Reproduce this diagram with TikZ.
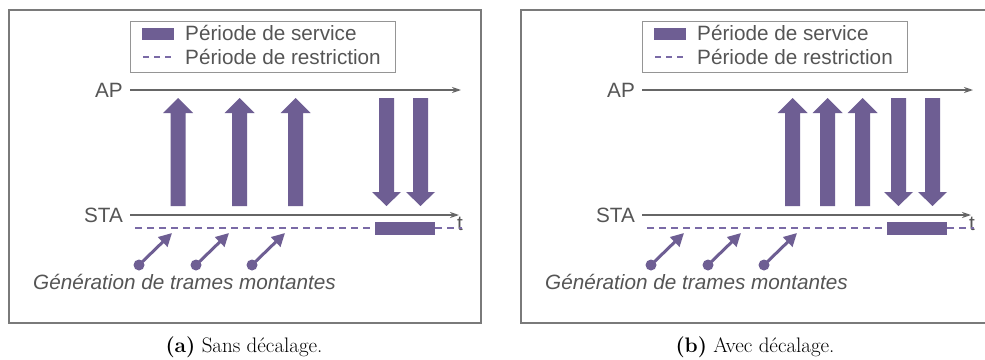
\documentclass[tikz,border=0pt]{standalone}
\usepackage{fontspec}
\newfontfamily\arialf{Liberation Sans}
\usetikzlibrary{arrows.meta}
\definecolor{pur}{HTML}{6E5E93}
\definecolor{dashpur}{HTML}{7A6AA6}
\definecolor{axisgray}{HTML}{666666}
\definecolor{txtgray}{HTML}{555555}
\definecolor{framegray}{HTML}{7A7A7A}
\tikzset{
  txt/.style={inner sep=0pt, text=txtgray, font=\arialf\fontsize{20.7}{24}\selectfont},
  gentxt/.style={inner sep=0pt, text=txtgray, font=\arialf\itshape\fontsize{20.7}{24}\selectfont},
  legendbox/.style={draw=framegray!80, line width=1pt, inner sep=0pt},
  framebox/.style={draw=framegray, line width=1.2pt},
  axisline/.style={draw=axisgray, line width=1.4pt, -{Stealth[length=9pt,width=6pt]}},
  dashline/.style={draw=dashpur, line width=1.6pt, dash pattern=on 7pt off 5pt},
  genarrow/.style={draw=pur, line width=3pt, -{Triangle[length=13pt,width=13pt]}, shorten <=3pt},
  gendot/.style={circle, fill=pur, inner sep=0pt, minimum size=11pt},
  bigarrow/.style={fill=pur},
  caption/.style={inner sep=0pt, font=\fontsize{21}{25}\selectfont}
}
% up arrow centred at x
\newcommand\uparr[1]{\fill[bigarrow] (#1-7.5,206) -- (#1-7.5,113) -- (#1-15,113) -- (#1,98) -- (#1+15,113) -- (#1+7.5,113) -- (#1+7.5,206) -- cycle;}
\newcommand\downarr[1]{\fill[bigarrow] (#1-7.5,98) -- (#1-7.5,192) -- (#1-14.5,192) -- (#1,206) -- (#1+14.5,192) -- (#1+7.5,192) -- (#1+7.5,98) -- cycle;}
\newcommand\mypanel[2]{%
\begin{scope}[xshift=#2]
  \draw[framebox] (9,10) rectangle (481,323);
  \node[legendbox, minimum width=265pt, minimum height=51pt] (leg#1) at (262.5,46.5) {};
  \fill[pur] (142,28) rectangle (174,40);
  \draw[dashline, dash pattern=on 6pt off 5pt] (143,57) -- (174,57);
  \node[txt, anchor=base west] (ls#1) at (185,40) {Période de service};
  \node[txt, anchor=base west] (lr#1) at (185,64) {Période de restriction};
  \coordinate (aps#1) at (130,90);
  \coordinate (ape#1) at (461,90);
  \draw[axisline] (aps#1) -- (ape#1);
  \node[txt, anchor=base east] (ap#1) at (123,97) {AP};
  \coordinate (stas#1) at (130,215);
  \coordinate (stae#1) at (459,215);
  \draw[axisline] (stas#1) -- (stae#1);
  \node[txt, anchor=base east] (sta#1) at (123,222) {STA};
  \node[txt, anchor=base west] (t#1) at (457,230) {t};
  \coordinate (ds#1) at (135,228);
  \coordinate (de#1) at (462,228);
  \draw[dashline] (ds#1) -- (de#1);
  \fill[pur] (375,222) rectangle (435,235);
  \downarr{386.5}
  \downarr{420.5}
  \foreach \i/\x in {1/139,2/196,3/252} {
    \node[gendot] (g#1\i) at (\x,265) {};
    \coordinate (gt#1\i) at (\x+33,233);
    \draw[genarrow] (g#1\i.center) -- (gt#1\i);
  }
  \node[gentxt, anchor=base west] (gen#1) at (33,289) {Génération de trames montantes};
\end{scope}}
\begin{document}
\begin{tikzpicture}[x=1pt,y=-1pt]
\useasboundingbox (0,0) rectangle (985,359);
\clip (0,0) rectangle (985,359);
\fill[white] (0,0) rectangle (985,359);
\mypanel{a}{0pt}
\mypanel{b}{512pt}
\uparr{178}
\uparr{239.5}
\uparr{295.5}
\uparr{792.5}
\uparr{827.5}
\uparr{862.5}
\node[caption, anchor=base] (capa) at (244,352) {\textbf{(a)} Sans décalage.};
\node[caption, anchor=base] (capb) at (755,352) {\textbf{(b)} Avec décalage.};
\end{tikzpicture}
\end{document}
